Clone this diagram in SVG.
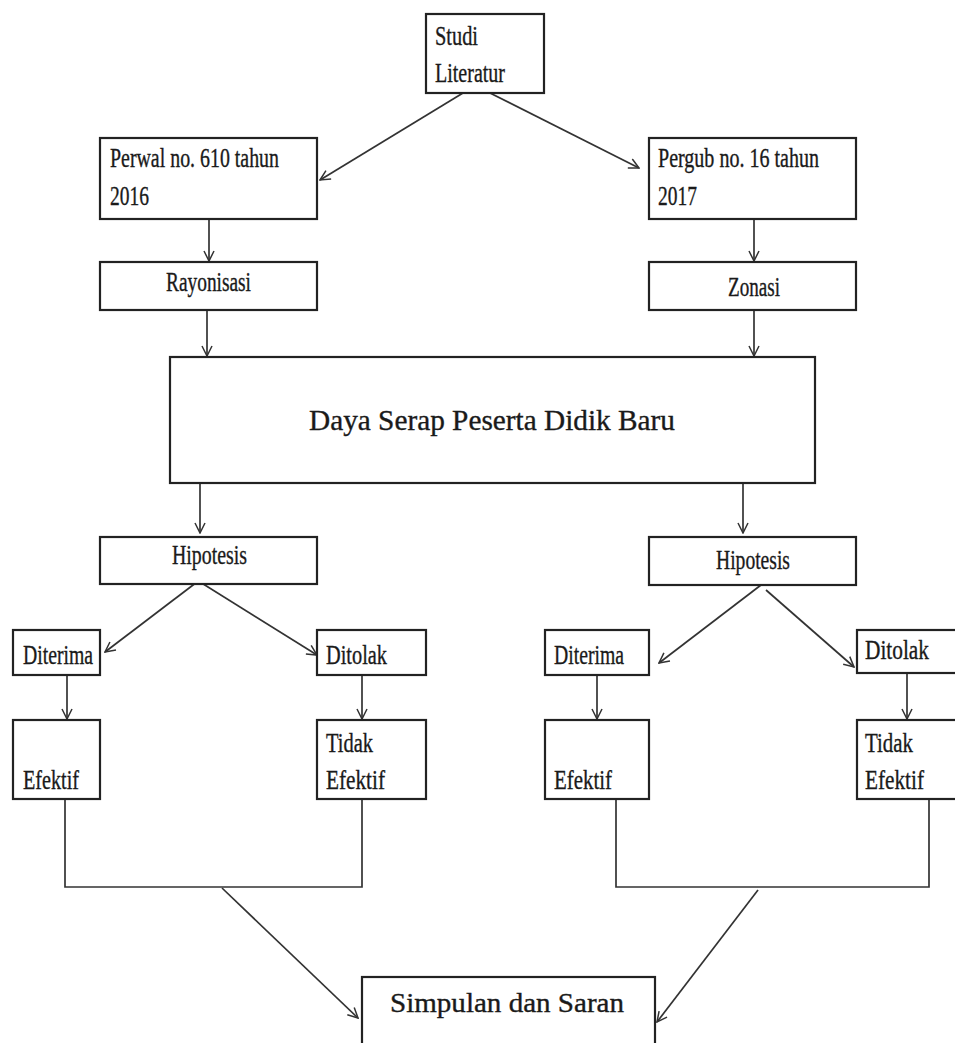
<svg xmlns="http://www.w3.org/2000/svg" width="955" height="1043" viewBox="0 0 955 1043">
<style>
.box{fill:#fff;stroke:#222;stroke-width:2.2}
.t{font-family:"Liberation Serif","Times New Roman",serif;font-size:27px;fill:#1a1a1a;stroke:#1a1a1a;stroke-width:0.35}
.big{font-size:30px}
.c{fill:none;stroke:#333;stroke-width:1.7}
.a{fill:none;stroke:#333;stroke-width:1.7;marker-end:url(#v)}
</style>
<defs>
<marker id="v" viewBox="0 0 12 12" refX="11" refY="6" markerWidth="12" markerHeight="12" markerUnits="userSpaceOnUse" orient="auto">
<path d="M1,1 L11,6 L1,11" fill="none" stroke="#333" stroke-width="1.5"/>
</marker>
</defs>
<rect width="955" height="1043" fill="#fff"/>
<g id="connectors">
<path class="a" d="M463,93 L320,180"/>
<path class="a" d="M490,93 L639,168"/>
<path class="a" d="M209,219 L209,261"/>
<path class="a" d="M754,213 L754,261"/>
<path class="a" d="M207,310 L207,356"/>
<path class="a" d="M754,310 L754,356"/>
<path class="a" d="M200,483 L200,533"/>
<path class="a" d="M743,483 L743,533"/>
<path class="a" d="M197,582 L105,652"/>
<path class="a" d="M200,582 L317,655"/>
<path class="a" d="M761,585 L659,663"/>
<path class="a" d="M766,590 L854,667"/>
<path class="a" d="M67,675 L67,719"/>
<path class="a" d="M362,660 L362,719"/>
<path class="a" d="M597,655 L597,719"/>
<path class="a" d="M907,665 L907,719"/>
<path class="c" d="M65,799 L65,887 L362,887 L362,799"/>
<path class="c" d="M616,799 L616,887 L929,887 L929,799"/>
<path class="a" d="M222,888 L358,1018"/>
<path class="a" d="M758,890 L657,1022"/>
</g>
<g id="studi"><rect class="box" x="426" y="14" width="118" height="79"/>
<text class="t" x="435" y="45" textLength="43" lengthAdjust="spacingAndGlyphs">Studi</text>
<text class="t" x="435" y="82" textLength="70" lengthAdjust="spacingAndGlyphs">Literatur</text></g>
<g id="perwal"><rect class="box" x="100" y="138" width="217" height="81"/>
<text class="t" x="110" y="167" textLength="169" lengthAdjust="spacingAndGlyphs">Perwal no. 610 tahun</text>
<text class="t" x="110" y="205" textLength="39" lengthAdjust="spacingAndGlyphs">2016</text></g>
<g id="pergub"><rect class="box" x="649" y="138" width="207" height="81"/>
<text class="t" x="658" y="167" textLength="161" lengthAdjust="spacingAndGlyphs">Pergub no. 16 tahun</text>
<text class="t" x="658" y="205" textLength="39" lengthAdjust="spacingAndGlyphs">2017</text></g>
<g id="rayonisasi"><rect class="box" x="100" y="262" width="217" height="48"/>
<text class="t" x="166" y="291" textLength="85" lengthAdjust="spacingAndGlyphs">Rayonisasi</text></g>
<g id="zonasi"><rect class="box" x="649" y="262" width="207" height="48"/>
<text class="t" x="728" y="296" textLength="52" lengthAdjust="spacingAndGlyphs">Zonasi</text></g>
<g id="daya"><rect class="box" x="170" y="357" width="645" height="126"/>
<text class="t big" x="309" y="430" textLength="366" lengthAdjust="spacingAndGlyphs">Daya Serap Peserta Didik Baru</text></g>
<g id="hipotesis-left"><rect class="box" x="100" y="537" width="217" height="47"/>
<text class="t" x="172" y="564" textLength="75" lengthAdjust="spacingAndGlyphs">Hipotesis</text></g>
<g id="hipotesis-right"><rect class="box" x="649" y="537" width="207" height="48"/>
<text class="t" x="716" y="569" textLength="74" lengthAdjust="spacingAndGlyphs">Hipotesis</text></g>
<g id="diterima-left"><rect class="box" x="13" y="630" width="87" height="45"/>
<text class="t" x="23" y="664" textLength="70" lengthAdjust="spacingAndGlyphs">Diterima</text></g>
<g id="ditolak-left"><rect class="box" x="317" y="630" width="109" height="45"/>
<text class="t" x="326" y="664" textLength="61" lengthAdjust="spacingAndGlyphs">Ditolak</text></g>
<g id="diterima-right"><rect class="box" x="545" y="630" width="104" height="45"/>
<text class="t" x="554" y="664" textLength="70" lengthAdjust="spacingAndGlyphs">Diterima</text></g>
<g id="ditolak-right"><rect class="box" x="857" y="630" width="110" height="43"/>
<text class="t" x="865" y="659" textLength="64" lengthAdjust="spacingAndGlyphs">Ditolak</text></g>
<g id="efektif-left"><rect class="box" x="13" y="720" width="87" height="79"/>
<text class="t" x="23" y="789" textLength="56" lengthAdjust="spacingAndGlyphs">Efektif</text></g>
<g id="tidak-efektif-left"><rect class="box" x="317" y="720" width="109" height="79"/>
<text class="t" x="326" y="752" textLength="47" lengthAdjust="spacingAndGlyphs">Tidak</text>
<text class="t" x="326" y="789" textLength="59" lengthAdjust="spacingAndGlyphs">Efektif</text></g>
<g id="efektif-right"><rect class="box" x="545" y="720" width="104" height="79"/>
<text class="t" x="554" y="789" textLength="58" lengthAdjust="spacingAndGlyphs">Efektif</text></g>
<g id="tidak-efektif-right"><rect class="box" x="857" y="720" width="110" height="79"/>
<text class="t" x="865" y="752" textLength="48" lengthAdjust="spacingAndGlyphs">Tidak</text>
<text class="t" x="865" y="789" textLength="59" lengthAdjust="spacingAndGlyphs">Efektif</text></g>
<g id="simpulan"><rect class="box" x="362" y="977" width="293" height="80"/>
<text class="t" x="390" y="1012" textLength="234" lengthAdjust="spacingAndGlyphs">Simpulan dan Saran</text></g>
</svg>
